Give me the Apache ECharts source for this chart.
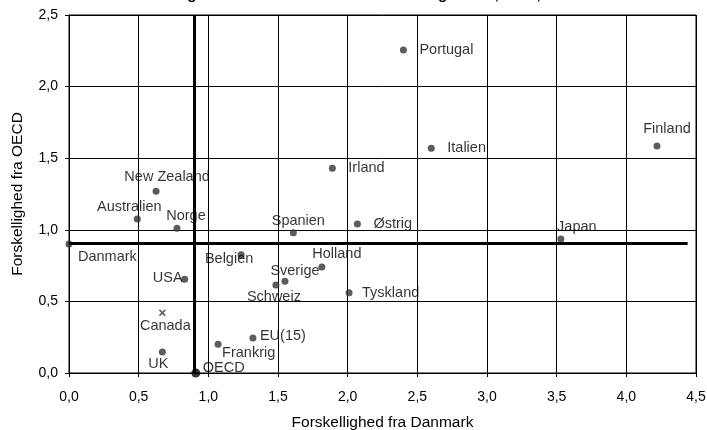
<!DOCTYPE html>
<html>
<head>
<meta charset="utf-8">
<script src="https://cdn.jsdelivr.net/npm/echarts@6/dist/echarts.min.js"></script>
<style>
  html, body { margin: 0; padding: 0; background: #fff; }
  #chart { width: 707px; height: 430px; }
</style>
</head>
<body>
<div id="chart"></div>
<script>
// data
const countries = ['Portugal', 'Italien', 'Finland', 'Irland', 'Spanien', 'Østrig', 'Japan', 'Danmark',
  'New Zealand', 'Australien', 'Norge', 'Belgien', 'Holland', 'Sverige', 'Schweiz', 'Tyskland',
  'USA', 'Canada', 'UK', 'Frankrig', 'EU(15)', 'OECD']
const diffDanmark = [2.40, 2.60, 4.22, 1.89, 1.61, 2.07, 3.53, 0.0,
  0.625, 0.49, 0.775, 1.235, 1.815, 1.55, 1.485, 2.01,
  0.83, 0.67, 0.67, 1.07, 1.32, 0.91]
const diffOECD = [2.255, 1.57, 1.585, 1.43, 0.98, 1.04, 0.935, 0.90,
  1.27, 1.075, 1.01, 0.825, 0.74, 0.64, 0.615, 0.56,
  0.655, 0.42, 0.147, 0.20, 0.245, 0.0]
const xTicks = [0, 0.5, 1, 1.5, 2, 2.5, 3, 3.5, 4, 4.5]
const yTicks = [0, 0.5, 1, 1.5, 2, 2.5]
const refDanmark = 0.9   // lodret linje
const refOECD = 0.905    // vandret linje

// label placering: [align, dx, dy] fra punktets midte
const labelPlace = {
  'Portugal': ['left', 16, 0],
  'Italien': ['left', 16, 0],
  'Finland': ['center', 10, -17],
  'Irland': ['left', 16, 0],
  'Spanien': ['center', 5, -12],
  'Østrig': ['left', 16, 0],
  'Japan': ['center', 16, -12],
  'Danmark': ['left', 9, 13],
  'New Zealand': ['center', 11, -14],
  'Australien': ['center', -8, -12],
  'Norge': ['center', 9, -12],
  'Belgien': ['center', -12, 4],
  'Holland': ['center', 15, -13],
  'Sverige': ['center', 10, -10],
  'Schweiz': ['center', -2, 12],
  'Tyskland': ['left', 13, 0],
  'USA': ['right', -2, -1],
  'Canada': ['center', 3, 13],
  'UK': ['center', -4, 12],
  'Frankrig': ['left', 4, 9],
  'EU(15)': ['left', 7, -2],
  'OECD': ['left', 7, -5]
}

const crossPath = 'path://M0,1.6L1.6,0L5,3.4L8.4,0L10,1.6L6.6,5L10,8.4L8.4,10L5,6.6L1.6,10L0,8.4L3.4,5Z'
const fmt = v => v.toFixed(1).replace('.', ',')

const points = countries.map((name, i) => {
  const p = labelPlace[name]
  const item = {
    name: name,
    value: [diffDanmark[i], diffOECD[i]],
    label: { align: p[0], offset: [p[1], p[2]] }
  }
  if (name === 'Canada') {
    item.symbol = crossPath
    item.symbolSize = 7
  }
  if (name === 'OECD') {
    item.symbolSize = 9
    item.itemStyle = { color: '#000' }
  }
  return item
})

const myChart = echarts.init(document.getElementById('chart'))
const options = {
  animation: false,
  textStyle: { fontFamily: 'Liberation Sans, Arial, sans-serif' },
  title: {
    text: 'Placering af landene i forhold til Danmark og OECD, 1990, 1999',
    left: 'center',
    top: -18,
    textStyle: { fontSize: 15, fontWeight: 'bold', color: '#000' }
  },
  grid: {
    left: 69, right: 11, top: 15, bottom: 57,
    outerBoundsMode: 'none',
    show: true, borderColor: '#000', borderWidth: 1
  },
  xAxis: {
    type: 'value',
    min: xTicks[0],
    max: xTicks[xTicks.length - 1],
    interval: 0.5,
    name: 'Forskellighed fra Danmark',
    nameLocation: 'middle',
    nameGap: 42,
    nameTextStyle: { fontSize: 15.5, color: '#000' },
    axisLine: { show: true, lineStyle: { color: '#000', width: 1 } },
    axisTick: { show: true, length: 4, lineStyle: { color: '#000' } },
    axisLabel: { margin: 17, fontSize: 14, color: '#000', formatter: fmt },
    splitLine: { show: true, lineStyle: { color: '#000', width: 1 } }
  },
  yAxis: {
    type: 'value',
    min: yTicks[0],
    max: yTicks[yTicks.length - 1],
    interval: 0.5,
    name: 'Forskellighed fra OECD',
    nameLocation: 'middle',
    nameGap: 43,
    nameTextStyle: { fontSize: 15.5, color: '#000' },
    axisLine: { show: true, lineStyle: { color: '#000', width: 1 } },
    axisTick: { show: true, length: 4, lineStyle: { color: '#000' } },
    axisLabel: { margin: 11, fontSize: 14, color: '#000', formatter: fmt },
    splitLine: { show: true, lineStyle: { color: '#000', width: 1 } }
  },
  series: [
    {
      type: 'scatter',
      symbol: 'circle',
      symbolSize: 7,
      itemStyle: { color: '#333' },
      label: {
        show: true,
        position: 'inside',
        verticalAlign: 'middle',
        formatter: '{b}',
        fontSize: 14.5,
        color: '#000'
      },
      markLine: {
        silent: true,
        symbol: 'none',
        label: { show: false },
        lineStyle: { color: '#000', width: 3, type: 'solid' },
        data: [
          [{ coord: [refDanmark, 0] }, { coord: [refDanmark, 2.5] }],
          [{ coord: [0, refOECD] }, { coord: [4.44, refOECD] }]
        ]
      },
      data: points,
      z: 3
    }
  ]
}
myChart.setOption(options)
</script>
</body>
</html>
